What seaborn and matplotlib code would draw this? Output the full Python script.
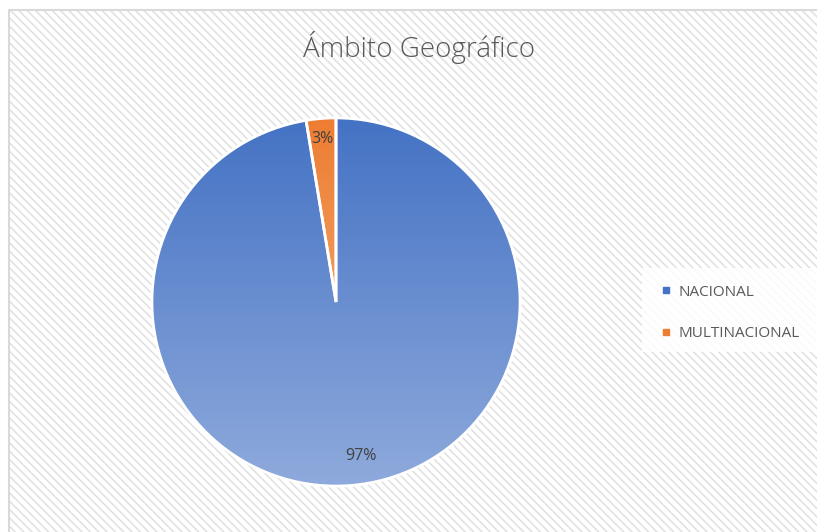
import numpy as np
import matplotlib
matplotlib.use("Agg")
import matplotlib.pyplot as plt
import seaborn as sns
from matplotlib.patches import Rectangle
from matplotlib.colors import LinearSegmentedColormap
from matplotlib.lines import Line2D

categories = ["NACIONAL", "MULTINACIONAL"]
values = [97.4, 2.6]
top_colors = ["#4472C4", "#ED7D31"]
bottom_colors = ["#8FAADC", "#F6B98C"]
title = "Ámbito Geográfico"

sns.set_theme(style="white")
plt.rcParams["font.family"] = ["Open Sans", "DejaVu Sans"]
plt.rcParams["hatch.linewidth"] = 1.2

W, H = 817, 532
fig = plt.figure(figsize=(W / 100, H / 100), dpi=100)
fig.patch.set_facecolor("white")

# hatched chart area (Excel style), cropped at right/bottom
bg = Rectangle((9 / W, -0.01), 1.0, 1 - 10 / H + 0.01, transform=fig.transFigure,
               facecolor="white", edgecolor="#E2E2E2", hatch="\\\\\\\\", lw=0, zorder=-2)
fig.patches.append(bg)
border = Rectangle((9 / W, -0.01), 1.0, 1 - 10 / H + 0.01, transform=fig.transFigure,
                   facecolor="none", edgecolor="#D9D9D9", lw=1.5, zorder=-1)
fig.patches.append(border)

# legend box
leg_bg = Rectangle((642 / W, 1 - 352 / H), (W - 642) / W, 84 / H, transform=fig.transFigure,
                   facecolor="white", edgecolor="none", alpha=0.85, zorder=-1)
fig.patches.append(leg_bg)

cx, cy, r = 336, 302, 185
ax = fig.add_axes([(cx - r) / W, (H - cy - r) / H, 2 * r / W, 2 * r / H])
ax.set_facecolor("none")
ax.set_zorder(2)

wedges, _, autotexts = ax.pie(values, startangle=90, counterclock=False,
                              autopct="%.0f%%", pctdistance=0.87, radius=0.995,
                              wedgeprops=dict(edgecolor="white", linewidth=2),
                              textprops=dict(color="#404040", fontsize=11.5))

grad = np.linspace(0, 1, 256).reshape(-1, 1)
for w, c1, c2 in zip(wedges, top_colors, bottom_colors):
    cmap = LinearSegmentedColormap.from_list("g", [c1, c2])
    im = ax.imshow(grad, extent=(-1, 1, -1, 1), cmap=cmap, aspect="auto",
                   origin="upper", zorder=0.5)
    im.set_clip_path(w)
    w.set_facecolor("none")
    w.set_zorder(1)

# Excel-like label placement
autotexts[0].set_position((0.135, -0.83))
autotexts[1].set_position((-0.075, 0.88))
for t in autotexts:
    t.set_zorder(3)

ax.set_xlim(-1, 1)
ax.set_ylim(-1, 1)
ax.set_aspect("equal")
ax.axis("off")

fig.text(419 / W, 1 - 47 / H, title, ha="center", va="center",
         fontsize=20, color="#595959", fontweight="light")

handles = [Line2D([], [], marker="s", linestyle="none", markersize=5,
                  markerfacecolor=c, markeredgecolor=c) for c in top_colors]
fig.legend(handles, categories, loc="upper left", bbox_to_anchor=(652 / W, 1 - 277 / H),
           frameon=False, fontsize=11, labelcolor="#595959", labelspacing=1.75,
           handlelength=0.8, handletextpad=0.45, borderpad=0)

fig.savefig("out.png", dpi=100)
